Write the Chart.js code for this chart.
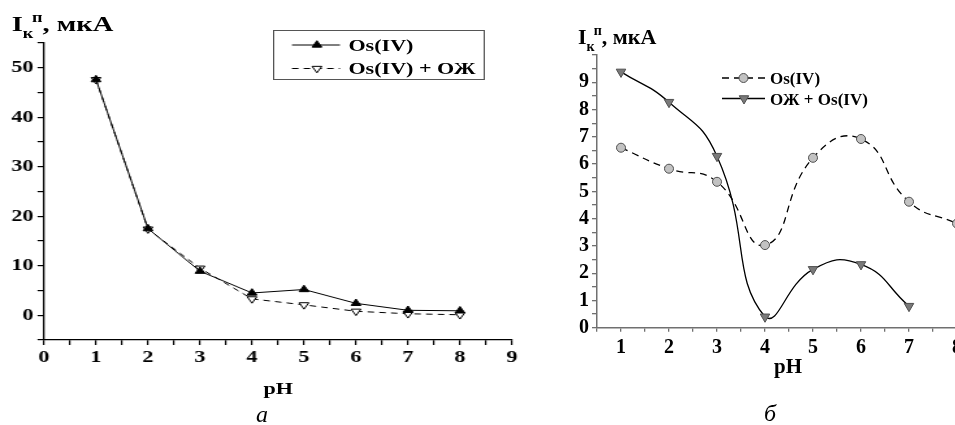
<!DOCTYPE html>
<html>
<head>
<meta charset="utf-8">
<script src="https://cdn.jsdelivr.net/npm/chart.js@4.4.1/dist/chart.umd.min.js"></script>
<style>
  html, body { margin: 0; padding: 0; background: #fff; overflow: hidden; }
  body { width: 955px; height: 425px; position: relative; font-family: 'Liberation Serif', 'Times New Roman', serif; }
  .t { position: absolute; white-space: nowrap; line-height: 1; font-weight: bold; color: #000; }
  .c { transform: translateX(-50%); }
  .sub, .sup { font-size: 14px; position: relative; }
  .sub { top: 7px; }
  .sup { top: -9px; margin-left: -1px; }
  .cap { position: absolute; font-style: italic; font-size: 24px; line-height: 1; transform: translateX(-50%); color: #000; }
  /* panel a is stretched sideways in the reference */
  #pa { position: absolute; left: 0; top: 0; width: 410px; height: 425px; transform: scaleX(1.3); transform-origin: 0 0; }
  #pb { position: absolute; left: 520px; top: 0; width: 480px; height: 425px; }
  .legbox { position: absolute; border: 1px solid #555; box-sizing: border-box; }
  canvas { position: absolute; left: 0; top: 0; }
</style>
</head>
<body>
<div id="pa">
  <canvas id="chartA" width="410" height="425"></canvas>
  <div class="t" style="left:9px;top:13px;font-size:22px">I<span class="sub">к</span><span class="sup">п</span>, мкА</div>
  <div class="legbox" style="left:210px;top:30px;width:163px;height:50px"></div>
  <div class="t" style="left:268px;top:36.5px;font-size:17px">Os(IV)</div>
  <div class="t" style="left:268px;top:59.5px;font-size:17px">Os(IV) + ОЖ</div>
  <div class="t c" style="left:214px;top:380px;font-size:17px">pH</div>
</div>
<div id="pb">
  <canvas id="chartB" width="480" height="425"></canvas>
</div>
<div class="t" style="left:578px;top:25.5px;font-size:22px">I<span class="sub">к</span><span class="sup">п</span>, мкА</div>
<div class="t" style="left:770px;top:69.5px;font-size:17px">Os(IV)</div>
<div class="t" style="left:770px;top:90.5px;font-size:17px">ОЖ + Os(IV)</div>
<div class="t c" style="left:788px;top:356px;font-size:21px">pH</div>
<div class="cap" style="left:262px;top:402px">а</div>
<div class="cap" style="left:770px;top:401px">б</div>

<script>
// panel а
const phA = [1, 2, 3, 4, 5, 6, 7, 8];
const osA = [47.6, 17.5, 8.9, 4.5, 5.2, 2.4, 1.0, 0.9];
const osOzhA = [47.6, 17.4, 9.5, 3.3, 2.1, 0.8, 0.3, 0.1];
const xLabelsA = [0, 1, 2, 3, 4, 5, 6, 7, 8, 9];
const yLabelsA = [0, 10, 20, 30, 40, 50];

// panel б
const phB = [1, 2, 3, 4, 5, 6, 7, 8];
const osB = [6.6, 5.83, 5.35, 3.03, 6.23, 6.92, 4.62, 3.82];
const ozhOsB = [9.38, 8.27, 6.29, 0.4, 2.14, 2.32, 0.79];
const xLabelsB = [1, 2, 3, 4, 5, 6, 7, 8];
const yLabelsB = [0, 1, 2, 3, 4, 5, 6, 7, 8, 9];

const SERIF = "'Liberation Serif', 'Times New Roman', serif";

function pts(xs, ys) {
    return ys.map((y, i) => ({ x: xs[i], y }));
}

function boldFont(size) {
    return { family: SERIF, weight: 'bold', size };
}

// line + marker samples for the legends (text is html)
const legendSamples = {
    id: 'legendSamples',
    afterDraw(chart, args, opts) {
        const ctx = chart.ctx;
        (opts.items || []).forEach(it => {
            const ds = chart.data.datasets[it.dataset];
            ctx.save();
            ctx.strokeStyle = ds.borderColor;
            ctx.lineWidth = ds.borderWidth;
            ctx.setLineDash(ds.borderDash || []);
            ctx.beginPath();
            ctx.moveTo(it.x1, it.y);
            ctx.lineTo(it.x2, it.y);
            ctx.stroke();
            ctx.setLineDash([]);
            ctx.fillStyle = ds.pointBackgroundColor;
            ctx.strokeStyle = ds.pointBorderColor;
            ctx.lineWidth = ds.pointBorderWidth;
            Chart.helpers.drawPoint(ctx, {
                pointStyle: ds.pointStyle,
                rotation: ds.pointRotation || 0,
                radius: ds.pointRadius,
                borderWidth: ds.pointBorderWidth
            }, it.xm, it.y);
            ctx.restore();
        });
    }
};

new Chart(document.getElementById('chartA'), {
    type: 'line',
    data: {
        datasets: [{
            label: 'Os(IV)',
            data: pts(phA, osA),
            borderColor: '#000',
            borderWidth: 1,
            pointStyle: 'triangle',
            pointRadius: 4.3,
            pointBackgroundColor: '#000',
            pointBorderColor: '#000',
            pointBorderWidth: 1
        }, {
            label: 'Os(IV) + ОЖ',
            data: pts(phA, osOzhA),
            borderColor: '#000',
            borderWidth: 1,
            borderDash: [5, 4],
            pointStyle: 'triangle',
            pointRotation: 180,
            pointRadius: 4.3,
            pointBackgroundColor: '#fff',
            pointBorderColor: '#000',
            pointBorderWidth: 1
        }]
    },
    options: {
        responsive: false,
        animation: false,
        layout: { padding: { top: 43, right: 16.15, left: 0, bottom: 0 } },
        plugins: {
            legend: { display: false },
            tooltip: { enabled: false },
            legendSamples: {
                items: [
                    { dataset: 0, x1: 224.6, x2: 261.5, xm: 243.8, y: 45 },
                    { dataset: 1, x1: 224.6, x2: 261.5, xm: 243.8, y: 68.5 }
                ]
            }
        },
        scales: {
            x: {
                type: 'linear',
                min: 0,
                max: 9,
                afterFit: s => { s.height = 85; },
                border: { color: '#000', width: 1.3 },
                grid: { drawOnChartArea: false, color: '#000', tickLength: 5, lineWidth: 1.2 },
                ticks: {
                    stepSize: 0.5, autoSkip: false, maxRotation: 0, padding: 2, color: '#000',
                    font: boldFont(17),
                    callback: v => xLabelsA.includes(v) ? String(v) : ''
                }
            },
            y: {
                min: -5,
                max: 55,
                afterFit: s => { s.width = 33.85; },
                border: { color: '#000', width: 1.3 },
                grid: { drawOnChartArea: false, color: '#000', tickLength: 5, lineWidth: 1.2 },
                ticks: {
                    stepSize: 5, autoSkip: false, padding: 3, color: '#000',
                    font: boldFont(17),
                    callback: v => yLabelsA.includes(v) ? String(v) : ''
                }
            }
        }
    },
    plugins: [legendSamples]
});

new Chart(document.getElementById('chartB'), {
    type: 'line',
    data: {
        datasets: [{
            label: 'Os(IV)',
            data: pts(phB, osB),
            borderColor: '#000',
            borderWidth: 1.3,
            borderDash: [7, 5],
            tension: 0.5,
            pointStyle: 'circle',
            pointRadius: 4.5,
            pointBackgroundColor: '#c2c2c2',
            pointBorderColor: '#505050',
            pointBorderWidth: 1
        }, {
            label: 'ОЖ + Os(IV)',
            data: pts(phB, ozhOsB),
            borderColor: '#000',
            borderWidth: 1.3,
            tension: 0.5,
            pointStyle: 'triangle',
            pointRotation: 180,
            pointRadius: 5.5,
            pointBackgroundColor: '#7a7a7a',
            pointBorderColor: '#505050',
            pointBorderWidth: 1
        }]
    },
    options: {
        responsive: false,
        animation: false,
        layout: { padding: { top: 55, right: 19, left: 0, bottom: 0 } },
        plugins: {
            legend: { display: false },
            tooltip: { enabled: false },
            legendSamples: {
                items: [
                    { dataset: 0, x1: 202, x2: 245, xm: 223.5, y: 78 },
                    { dataset: 1, x1: 202, x2: 245, xm: 224, y: 98.5 }
                ]
            }
        },
        scales: {
            x: {
                type: 'linear',
                min: 0.5,
                max: 8.5,
                afterFit: s => { s.height = 97.3; },
                border: { color: '#707070', width: 1.5 },
                grid: { drawOnChartArea: false, color: '#707070', tickLength: 4, lineWidth: 1.3 },
                ticks: {
                    stepSize: 0.5, autoSkip: false, maxRotation: 0, padding: 4, color: '#000',
                    font: boldFont(20),
                    callback: v => xLabelsB.includes(v) ? String(v) : ''
                }
            },
            y: {
                min: 0,
                max: 10,
                afterFit: s => { s.width = 77; },
                border: { color: '#707070', width: 1.5 },
                grid: { drawOnChartArea: false, color: '#707070', tickLength: 5, lineWidth: 1.3 },
                ticks: {
                    stepSize: 0.5, autoSkip: false, padding: 3, color: '#000',
                    font: boldFont(20),
                    callback: v => yLabelsB.includes(v) ? String(v) : ''
                }
            }
        }
    },
    plugins: [legendSamples]
});
</script>
</body>
</html>
